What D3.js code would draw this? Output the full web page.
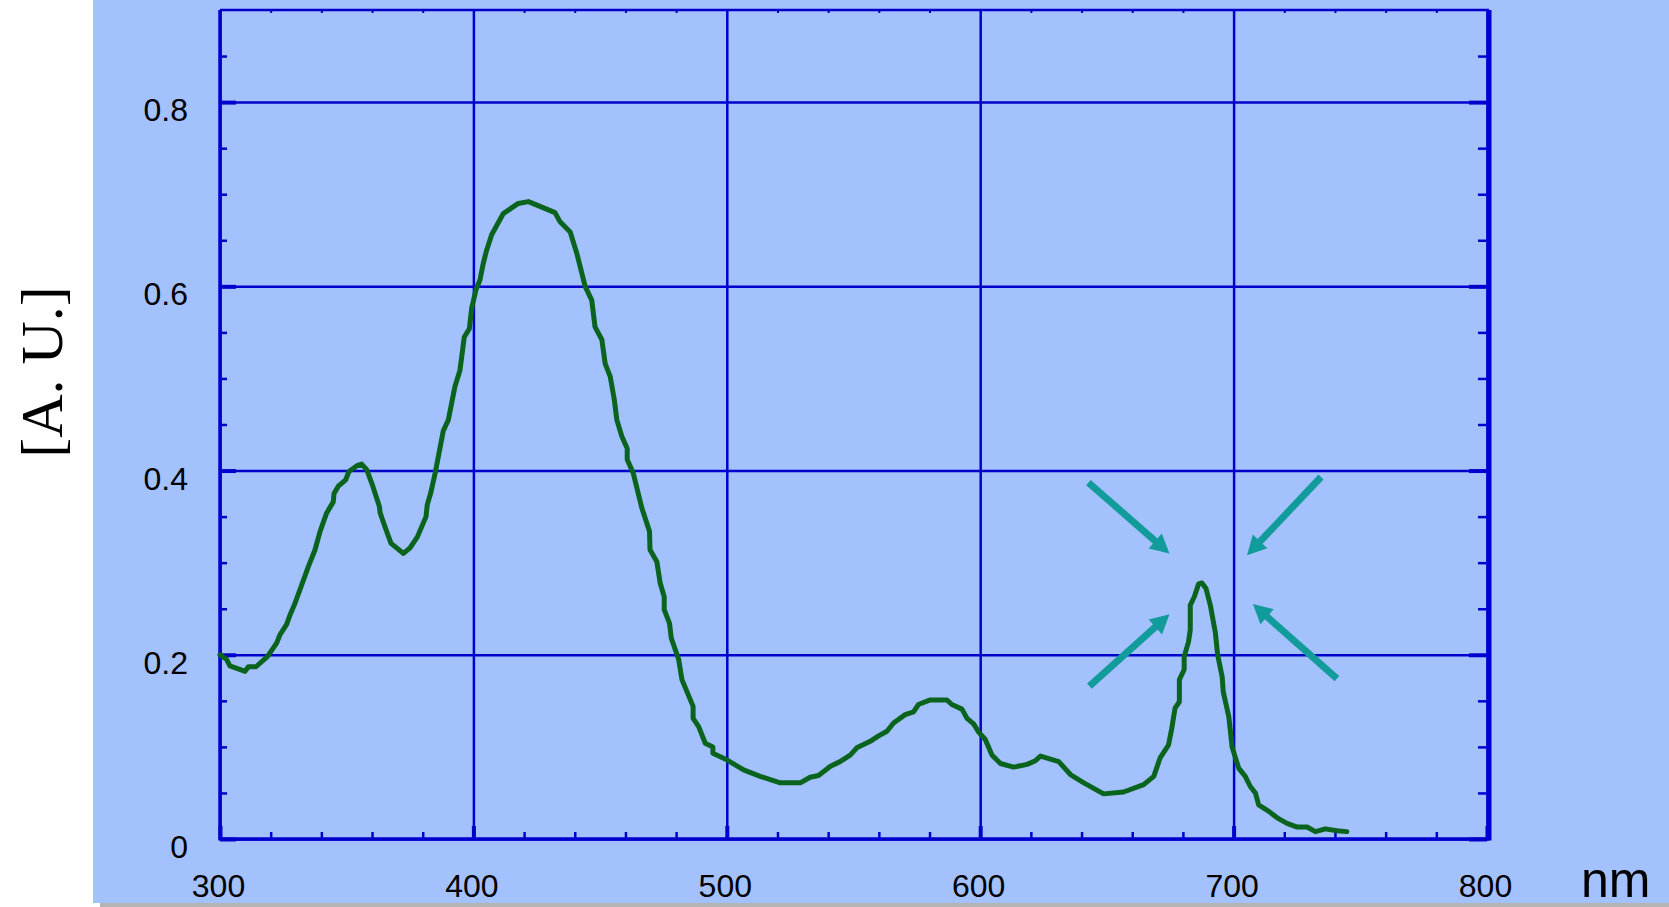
<!DOCTYPE html>
<html lang="en">
<head>
    <meta charset="UTF-8">
    <title>Spectrum</title>
    <script src="https://d3js.org/d3.v7.min.js"></script>
    <style>
        body { margin: 0; background: #fff; }
    </style>
</head>
<body>
<script>
    const width  = 1669;
    const height = 907;

    // wavelength (nm) and absorbance (A.U.)
    const wavelength = [300, 302.6, 303.9, 309.9, 311.2, 314.2, 318.7, 322.4, 323.7, 326.3,
        327.6, 329.6, 331.6, 334.9, 337.5, 339.5, 342.1, 344.7, 345.0, 346.7,
        349.6, 350.9, 353.9, 355.9, 357.9, 360.3, 362.9, 363.2, 365.1, 367.5,
        369.7, 372.4, 375.0, 377.9, 381.3, 381.8, 383.1, 384.9, 388.1, 390.1,
        391.4, 392.7, 394.7, 396.4, 398.4, 399.3, 401.0, 402.6, 403.9, 405.2,
        407.2, 411.8, 417.7, 421.7, 427.0, 432.2, 434.2, 438.2, 440.8, 444.1,
        446.7, 448.0, 450.7, 452.0, 454.0, 455.6, 456.6, 458.6, 460.7, 460.7,
        463.1, 466.5, 469.5, 469.7, 472.4, 473.7, 475.3, 475.3, 477.4, 478.1,
        481.0, 482.3, 486.7, 486.7, 488.9, 491.5, 494.5, 494.5, 500.0, 506.6,
        513.2, 521.1, 529.0, 532.9, 536.2, 540.9, 544.7, 548.7, 551.3, 556.6,
        559.9, 563.2, 565.8, 570.4, 573.7, 575.6, 580.3, 586.8, 588.8, 592.8,
        594.8, 597.4, 599.4, 602.0, 604.7, 608.0, 613.2, 618.5, 621.8, 623.8,
        631.0, 635.6, 640.9, 648.7, 656.6, 664.5, 668.5, 671.0, 674.3, 675.6,
        676.9, 678.6, 678.6, 680.5, 680.5, 682.2, 682.9, 682.9, 684.5, 686.2,
        687.5, 689.1, 690.8, 692.8, 693.7, 695.5, 695.9, 698.1, 699.4, 702.0,
        704.6, 706.6, 708.6, 709.9, 713.9, 717.2, 721.1, 725.1, 729.0, 732.3,
        736.2, 740.8, 744.7];
    const absorbance = [0.200, 0.195, 0.188, 0.182, 0.187, 0.187, 0.198, 0.213, 0.222, 0.233,
        0.243, 0.256, 0.271, 0.296, 0.314, 0.334, 0.354, 0.366, 0.375, 0.383,
        0.390, 0.399, 0.405, 0.407, 0.401, 0.383, 0.361, 0.354, 0.339, 0.321,
        0.316, 0.310, 0.316, 0.328, 0.350, 0.363, 0.375, 0.397, 0.443, 0.455,
        0.473, 0.491, 0.509, 0.545, 0.554, 0.576, 0.596, 0.607, 0.625, 0.639,
        0.656, 0.679, 0.690, 0.692, 0.686, 0.680, 0.670, 0.659, 0.636, 0.600,
        0.585, 0.556, 0.542, 0.516, 0.502, 0.477, 0.455, 0.437, 0.424, 0.412,
        0.397, 0.359, 0.334, 0.314, 0.301, 0.278, 0.263, 0.249, 0.234, 0.218,
        0.195, 0.173, 0.144, 0.131, 0.122, 0.104, 0.100, 0.093, 0.086, 0.075,
        0.068, 0.061, 0.061, 0.067, 0.069, 0.079, 0.084, 0.091, 0.099, 0.106,
        0.112, 0.117, 0.126, 0.135, 0.138, 0.146, 0.151, 0.151, 0.146, 0.141,
        0.131, 0.125, 0.116, 0.108, 0.091, 0.082, 0.078, 0.081, 0.085, 0.090,
        0.084, 0.070, 0.061, 0.049, 0.051, 0.059, 0.068, 0.088, 0.102, 0.120,
        0.142, 0.149, 0.173, 0.184, 0.198, 0.214, 0.227, 0.254, 0.263, 0.277,
        0.278, 0.272, 0.254, 0.224, 0.200, 0.176, 0.160, 0.133, 0.100, 0.077,
        0.068, 0.057, 0.050, 0.037, 0.030, 0.023, 0.017, 0.013, 0.013, 0.008,
        0.011, 0.009, 0.008];

    const xTicks = [300, 400, 500, 600, 700, 800];
    const yTicks = [0, 0.2, 0.4, 0.6, 0.8];

    // arrows pointing at the red peak: [x1, y1, x2, y2] in data units
    const arrows = [
        [642.7, 0.387, 674.7, 0.310],
        [734.5, 0.393, 705.3, 0.308],
        [643.1, 0.166, 674.7, 0.244],
        [740.8, 0.174, 707.6, 0.255]
    ];

    const plotLeft = 220, plotRight = 1487, plotTop = 10, plotBottom = 839;
    const gridColor = "#0000cc";
    const sans = "'Liberation Sans', Arial, sans-serif";

    const x = d3.scaleLinear().domain([300, 800]).range([plotLeft, plotRight]);
    const y = d3.scaleLinear().domain([0, 0.9]).range([plotBottom, plotTop]);

    const svg = d3.select("body").append("svg").attr("width", width).attr("height", height)
        .style("display", "block");

    // panel background and its shadow
    svg.append("rect").attr("x", 100).attr("y", 900).attr("width", width - 100).attr("height", 7)
        .attr("fill", "#b4b4b4");
    svg.append("rect").attr("x", 93).attr("y", 0).attr("width", width - 93).attr("height", 903)
        .attr("fill", "#a3c1fd");

    const minorX = d3.range(300, 801, 20).filter(d => d % 100 !== 0);
    const minorY = d3.range(0.05, 0.9, 0.05).filter(d => Math.abs(d * 5 - Math.round(d * 5)) > 1e-6);

    function styleAxis(g, w) {
        g.select(".domain").remove();
        g.selectAll("line").attr("stroke", gridColor).attr("stroke-width", w);
    }

    // grid
    svg.append("g").attr("transform", "translate(0," + plotBottom + ")")
        .call(d3.axisBottom(x).tickValues(xTicks).tickSize(-(plotBottom - plotTop)).tickFormat(""))
        .call(g => styleAxis(g, 2.5));
    svg.append("g").attr("transform", "translate(" + plotLeft + ",0)")
        .call(d3.axisLeft(y).tickValues(yTicks).tickSize(-(plotRight - plotLeft)).tickFormat(""))
        .call(g => styleAxis(g, 2.5));

    // minor ticks
    svg.append("g").attr("transform", "translate(0," + plotBottom + ")")
        .call(d3.axisBottom(x).tickValues(minorX).tickSize(-7).tickFormat(""))
        .call(g => styleAxis(g, 2.5));
    svg.append("g").attr("transform", "translate(0," + plotTop + ")")
        .call(d3.axisTop(x).tickValues(minorX).tickSize(-3).tickFormat(""))
        .call(g => styleAxis(g, 2));
    svg.append("g").attr("transform", "translate(" + plotLeft + ",0)")
        .call(d3.axisLeft(y).tickValues(minorY).tickSize(-7).tickFormat(""))
        .call(g => styleAxis(g, 2.5));
    svg.append("g").attr("transform", "translate(" + plotRight + ",0)")
        .call(d3.axisRight(y).tickValues(minorY).tickSize(-9).tickFormat(""))
        .call(g => styleAxis(g, 2.5));

    // major ticks (short, heavier)
    svg.append("g").attr("transform", "translate(0," + plotBottom + ")")
        .call(d3.axisBottom(x).tickValues(xTicks).tickSize(-13).tickFormat(""))
        .call(g => styleAxis(g, 4));
    svg.append("g").attr("transform", "translate(" + plotLeft + ",0)")
        .call(d3.axisLeft(y).tickValues(yTicks).tickSize(-16).tickFormat(""))
        .call(g => styleAxis(g, 4));
    svg.append("g").attr("transform", "translate(" + plotRight + ",0)")
        .call(d3.axisRight(y).tickValues(yTicks).tickSize(-18).tickFormat(""))
        .call(g => styleAxis(g, 4));

    // frame
    svg.append("line").attr("x1", plotLeft).attr("x2", plotRight + 2).attr("y1", plotTop).attr("y2", plotTop)
        .attr("stroke", gridColor).attr("stroke-width", 2.5);
    svg.append("line").attr("x1", plotLeft).attr("x2", plotRight + 2).attr("y1", plotBottom).attr("y2", plotBottom)
        .attr("stroke", gridColor).attr("stroke-width", 3.5);
    svg.append("line").attr("x1", plotLeft).attr("x2", plotLeft).attr("y1", plotTop).attr("y2", plotBottom + 1.5)
        .attr("stroke", gridColor).attr("stroke-width", 3.5);
    svg.append("line").attr("x1", plotRight + 2).attr("x2", plotRight + 2).attr("y1", plotTop).attr("y2", plotBottom + 1.5)
        .attr("stroke", gridColor).attr("stroke-width", 5);

    // tick labels
    svg.append("g").attr("transform", "translate(" + plotLeft + ",0)")
        .call(d3.axisLeft(y).tickValues(yTicks).tickSize(0).tickPadding(32).tickFormat(d => String(d)))
        .call(g => g.select(".domain").remove())
        .call(g => g.selectAll("text").attr("dy", "0.58em").attr("fill", "#000")
            .style("font-family", sans).style("font-size", "32px"));
    svg.append("g").attr("transform", "translate(-2," + plotBottom + ")")
        .call(d3.axisBottom(x).tickValues(xTicks).tickSize(0).tickPadding(35))
        .call(g => g.select(".domain").remove())
        .call(g => g.selectAll("text").attr("fill", "#000")
            .style("font-family", sans).style("font-size", "32px"));

    svg.append("text").text("nm").attr("x", 1581).attr("y", 897)
        .attr("fill", "#000").style("font-family", sans).style("font-size", "50px");

    svg.append("text").text("[A. U.]")
        .attr("transform", "translate(62,372) rotate(-90)")
        .attr("text-anchor", "middle")
        .attr("fill", "#000")
        .style("font-family", "'Liberation Serif', 'DejaVu Serif', serif")
        .style("font-size", "60px");

    // spectrum
    const line = d3.line()
        .x((d, i) => x(wavelength[i]))
        .y(d => y(d));

    svg.append("path")
        .attr("d", line(absorbance))
        .attr("fill", "none")
        .attr("stroke", "#0b641e")
        .attr("stroke-width", 5)
        .attr("stroke-linejoin", "round")
        .attr("stroke-linecap", "round");

    // arrows
    const arrowColor = "#129b9b";
    arrows.forEach(a => {
        const x1 = x(a[0]), y1 = y(a[1]), x2 = x(a[2]), y2 = y(a[3]);
        const ang = Math.atan2(y2 - y1, x2 - x1);
        const headLen = 19, headW = 10;
        const bx = x2 - headLen * Math.cos(ang), by = y2 - headLen * Math.sin(ang);
        svg.append("line")
            .attr("x1", x1).attr("y1", y1).attr("x2", bx + 2 * Math.cos(ang)).attr("y2", by + 2 * Math.sin(ang))
            .attr("stroke", arrowColor).attr("stroke-width", 7);
        const pts = [
            [x2, y2],
            [bx + headW * Math.sin(ang), by - headW * Math.cos(ang)],
            [bx - headW * Math.sin(ang), by + headW * Math.cos(ang)]
        ];
        svg.append("path").attr("d", "M" + pts.join("L") + "Z").attr("fill", arrowColor);
    });
</script>
</body>
</html>
